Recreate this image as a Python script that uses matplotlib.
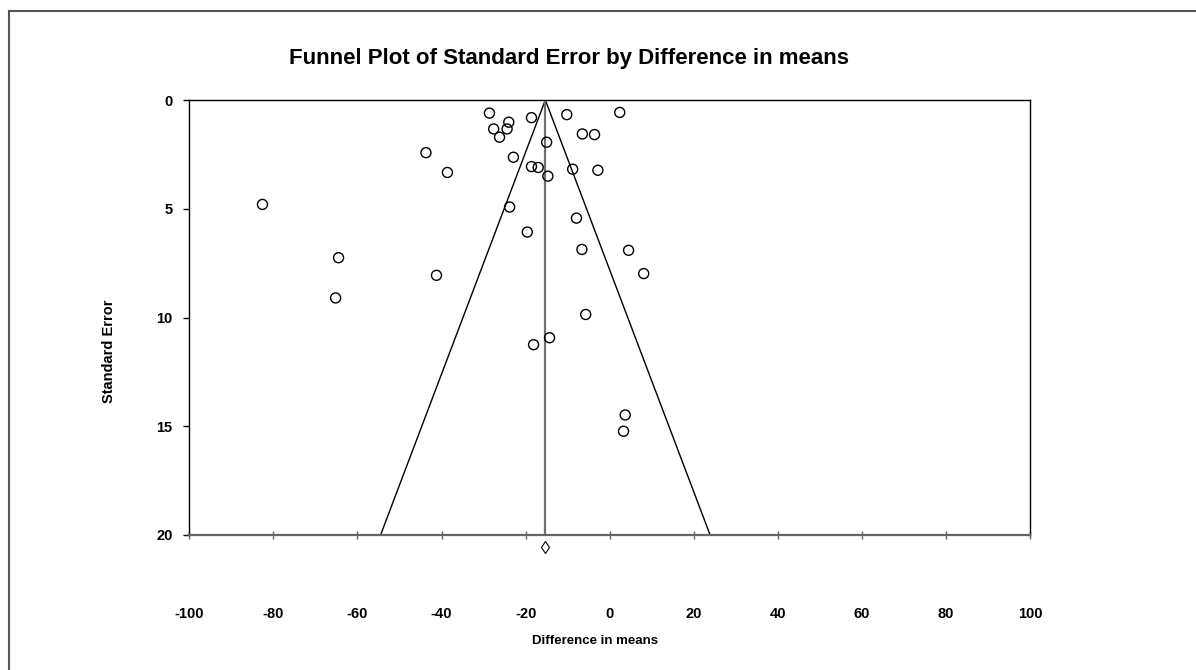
import numpy as np
import matplotlib
matplotlib.use('Agg')
import matplotlib.pyplot as plt
from matplotlib.lines import Line2D

plt.rcParams['font.family'] = ['Liberation Sans', 'DejaVu Sans']
plt.rcParams['font.weight'] = 'bold'
plt.rcParams['axes.unicode_minus'] = False

# study effects (difference in means) and their standard errors
diff = [-28.6, -24.0, -27.6, -24.4, -26.2, -18.6, -10.2, 2.4, -6.5, -3.6,
        -15.0, -43.7, -22.9, -38.6, -18.6, -17.0, -14.7, -8.8, -2.8, -82.6,
        -23.8, -7.9, -19.6, -6.6, 4.5, -64.5, -41.2, 8.1, -65.2, -5.7,
        -18.1, -14.3, 3.7, 3.3]
se = [0.60, 1.02, 1.33, 1.33, 1.71, 0.81, 0.67, 0.57, 1.56, 1.59,
      1.94, 2.42, 2.63, 3.33, 3.06, 3.10, 3.50, 3.18, 3.23, 4.80,
      4.92, 5.43, 6.07, 6.87, 6.91, 7.25, 8.06, 7.98, 9.10, 9.86,
      11.25, 10.93, 14.48, 15.23]

pooled = -15.3   # combined estimate
se_max = 20
x_ticks = [-100, -80, -60, -40, -20, 0, 20, 40, 60, 80, 100]
y_ticks = [0, 5, 10, 15, 20]

fig = plt.figure(figsize=(11.96, 6.70), dpi=100)
ax = fig.add_axes([0.1583, 0.2015, 0.7029, 0.6492])

# funnel: 95% limits around the pooled estimate
se_line = np.array([0, se_max])
ax.plot(pooled - 1.96 * se_line, se_line, color='black', lw=1)
ax.plot(pooled + 1.96 * se_line, se_line, color='black', lw=1)
ax.plot([pooled, pooled], [0, se_max], color='#707070', lw=1.6)

ax.scatter(diff, se, s=52, facecolors='none', edgecolors='black', linewidths=1, zorder=3)

# diamond for the pooled estimate below the axis
ax.plot([pooled], [se_max + 0.55], marker='d', ms=6.5, mfc='white', mec='black',
        mew=0.8, clip_on=False, zorder=4)

ax.set_xlim(-100, 100)
ax.set_ylim(se_max, 0)
ax.set_xticks(x_ticks)
ax.set_yticks(y_ticks)
ax.tick_params(axis='x', direction='inout', length=6, width=1, color='#666666',
               labelsize=10.5, pad=49)
ax.tick_params(axis='y', direction='out', length=4, width=1, labelsize=10.5, pad=8)
for lab in ax.get_xticklabels() + ax.get_yticklabels():
    lab.set_fontweight('bold')

for s in ['top', 'left', 'right']:
    ax.spines[s].set_linewidth(1)
    ax.spines[s].set_color('black')
ax.spines['bottom'].set_linewidth(1.6)
ax.spines['bottom'].set_color('#666666')

fig.text(0.476, 0.913, 'Funnel Plot of Standard Error by Difference in means',
         ha='center', va='center', fontsize=16, fontweight='bold')
fig.text(0.4975, 0.043, 'Difference in means', ha='center', va='center',
         fontsize=9.5, fontweight='bold')
fig.text(0.0915, 0.476, 'Standard Error', ha='center', va='center',
         rotation=90, fontsize=10.5, fontweight='bold')

# outer frame edges
fig.add_artist(Line2D([9 / 1196, 1], [1 - 11 / 670, 1 - 11 / 670],
                      transform=fig.transFigure, color='#555555', lw=1.5))
fig.add_artist(Line2D([9 / 1196, 9 / 1196], [0, 1 - 11 / 670],
                      transform=fig.transFigure, color='#555555', lw=1.5))

fig.savefig('out.png', dpi=100)
